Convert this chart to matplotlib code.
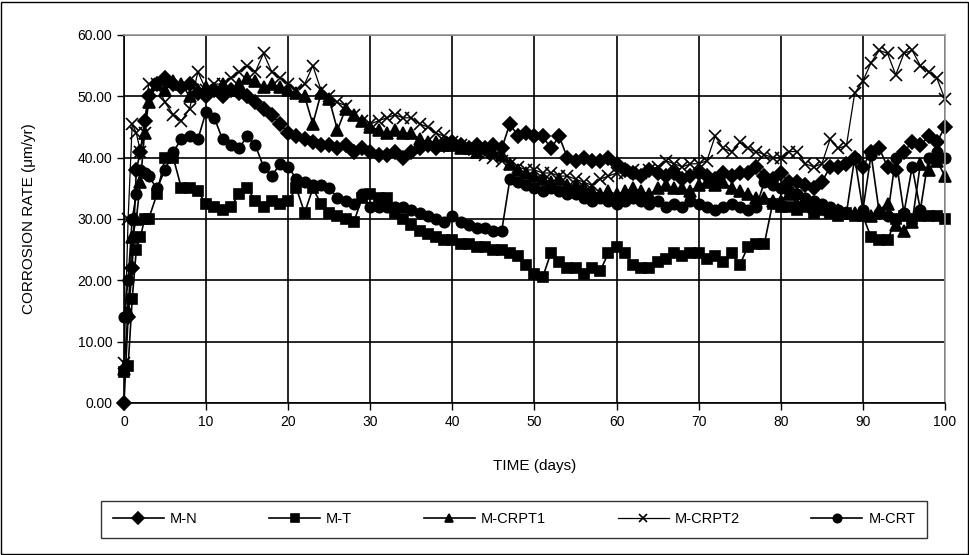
#!/usr/bin/env python3
# corrosion rate vs time, five mixes
import matplotlib
matplotlib.use("Agg")
import matplotlib.pyplot as plt
from matplotlib.patches import Rectangle

plt.rcParams['font.family'] = ['Liberation Sans', 'DejaVu Sans']

# first readings every half day, then daily from day 3
days = [0, 0.5, 1, 1.5, 2, 2.5] + list(range(3, 101))

m_n = ([0, 14, 22, 38, 41, 46] +
       [50, 52, 53, 52, 51.5, 52, 50.5, 50, 51, 50] +
       [51, 50.5, 50, 49, 48, 47, 45.5, 44, 43.5, 43] +
       [42.5, 42, 42, 41.5, 42, 41, 41.5, 41, 40.5, 40.5] +
       [41, 40, 41, 41.5, 42, 41.5, 42, 42.5, 42, 41.5] +
       [42, 41.5, 42, 41.5, 45.5, 43.5, 44, 43.5, 43.5, 41.5] +
       [43.5, 40, 39.5, 40, 39.5, 39.5, 40, 39, 38, 37.5] +
       [37, 38, 37.5, 37, 37.5, 36.5, 37, 37.5, 37, 36.5] +
       [37.5, 37, 37.5, 37.5, 38.5, 37, 36.5, 37.5, 36, 36] +
       [35.5, 35, 36, 38.5, 38.5, 39, 40, 38.5, 41, 41.5] +
       [38.5, 38, 41, 42.5, 42, 43.5, 42.5, 45])

m_t = ([5, 6, 17, 25, 27, 30] +
       [30, 34, 40, 40, 35, 35, 34.5, 32.5, 32, 31.5] +
       [32, 34, 35, 33, 32, 33, 32.5, 33, 35, 31] +
       [35, 32.5, 31, 30.5, 30, 29.5, 33.5, 34, 33.5, 33.5] +
       [31, 30, 29, 28, 27.5, 27, 26.5, 26.5, 26, 26] +
       [25.5, 25.5, 25, 25, 24.5, 24, 22.5, 21, 20.5, 24.5] +
       [23, 22, 22, 21, 22, 21.5, 24.5, 25.5, 24.5, 22.5] +
       [22, 22, 23, 23.5, 24.5, 24, 24.5, 24.5, 23.5, 24] +
       [23, 24.5, 22.5, 25.5, 26, 26, 32.5, 32, 32, 31.5] +
       [32, 31, 31.5, 31, 30.5, 31, 30.5, 30.5, 27, 26.5] +
       [26.5, 30, 30.5, 30, 30.5, 30.5, 30.5, 30])

m_crpt1 = ([5.5, 15, 27, 30, 36, 44] +
           [49, 52, 51, 52.5, 52, 50, 51, 51.5, 51, 52] +
           [51, 52, 53, 52.5, 51.5, 52, 51.5, 51, 50.5, 50] +
           [45.5, 50.5, 49.5, 44.5, 48, 47, 46, 45, 44.5, 44] +
           [44.5, 44, 44, 43, 42.5, 42.5, 42, 42, 41.5, 41.5] +
           [41, 41.5, 41, 40.5, 39, 38, 37.5, 37, 36.5, 36] +
           [36.5, 35.5, 35.5, 35, 34.5, 34, 34.5, 34, 34.5, 35] +
           [34.5, 34, 35, 35.5, 35, 35, 34.5, 35.5, 36, 35.5] +
           [36, 35, 34.5, 34, 33.5, 33.5, 33, 33, 34, 32.5] +
           [33, 32, 32, 31.5, 31.5, 31, 31, 31, 30.5, 31.5] +
           [32.5, 29, 28, 29.5, 39, 38, 39.5, 37])

m_crpt2 = ([6.5, 30, 45.5, 44, 41, 44] +
           [52, 52, 49, 47, 46, 48, 54, 51, 52, 52] +
           [53, 54, 55, 54, 57, 54, 53, 52, 51, 52] +
           [55, 51, 50, 49, 48.5, 47, 46, 45.5, 46, 46.5] +
           [47, 46.5, 46.5, 45.5, 45, 44, 43.5, 42.5, 42, 41.5] +
           [41, 40.5, 40, 39.5, 39, 38.5, 38, 38, 37.5, 37.5] +
           [37, 37, 36.5, 36, 35.5, 36.5, 37, 37.5, 37.5, 38] +
           [37.5, 38, 38.5, 39.5, 39, 38.5, 39, 39, 39.5, 43.5] +
           [41.5, 41, 42.5, 41.5, 41, 40.5, 40, 40, 41, 41] +
           [39, 38.5, 39, 43, 41.5, 42, 50.5, 52.5, 55.5, 57.5] +
           [57, 53.5, 57, 57.5, 55, 54, 53, 49.5])

m_crt = ([14, 20, 30, 34, 38, 37.5] +
         [37, 35, 38, 41, 43, 43.5, 43, 47.5, 46.5, 43] +
         [42, 41.5, 43.5, 42, 38.5, 37, 39, 38.5, 36.5, 36] +
         [35.5, 35.5, 35, 33.5, 33, 32.5, 34, 32, 32, 32] +
         [32, 32, 31.5, 31, 30.5, 30, 29.5, 30.5, 29.5, 29] +
         [28.5, 28.5, 28, 28, 36.5, 36, 35.5, 35, 34.5, 35] +
         [34.5, 34, 34, 33.5, 33, 33.5, 33, 32.5, 33, 33.5] +
         [33, 32.5, 33, 32, 32.5, 32, 33, 32.5, 32, 31.5] +
         [32, 32.5, 32, 31.5, 32, 36, 35.5, 35, 34.5, 34] +
         [33.5, 33, 32.5, 32, 31.5, 31, 40, 31.5, 40.5, 31] +
         [30.5, 40, 31, 38.5, 31.5, 40, 41, 40])

series = [
    ('M-N', m_n, 'D', 7, 1.2),
    ('M-T', m_t, 's', 7.5, 1.2),
    ('M-CRPT1', m_crpt1, '^', 8, 1.2),
    ('M-CRPT2', m_crpt2, 'x', 8, 0.9),
    ('M-CRT', m_crt, 'o', 7.5, 1.2),
]

fig = plt.figure(figsize=(9.7, 5.55), dpi=100)
ax = fig.add_axes([124 / 970, 1 - 403 / 555, 821 / 970, 368 / 555])

for name, vals, mk, ms, lw in series:
    ax.plot(days, vals, color='black', lw=lw, marker=mk, ms=ms,
            mew=1.2, mfc='black', mec='black', label=name, clip_on=False)

ax.set_xlim(0, 100)
ax.set_ylim(0, 60)
ax.set_xticks(range(0, 101, 10))
ax.set_yticks(range(0, 61, 10))
ax.set_yticklabels(['%.2f' % v for v in range(0, 61, 10)])
ax.grid(True, color='black', lw=1.2)
ax.set_axisbelow(True)
ax.tick_params(direction='out', length=5, width=1, labelsize=10, colors='black')
for s in ['left', 'bottom']:
    ax.spines[s].set_linewidth(1.2)
for s in ['top', 'right']:
    ax.spines[s].set_color('#999999')
    ax.spines[s].set_linewidth(1.2)

ax.set_xlabel('TIME (days)', fontsize=11, labelpad=22)
ax.set_ylabel('CORROSION RATE (\u03bcm/yr)', fontsize=11, labelpad=30)

leg = fig.legend(loc='lower left', bbox_to_anchor=(101 / 970, 1 - 538 / 555, 826 / 970, 38 / 555),
                 mode='expand', ncol=5, frameon=True, fancybox=False, edgecolor='black',
                 fontsize=10.5, handlelength=3.5, handletextpad=0.4,
                 borderaxespad=0, borderpad=0.8)
leg.get_frame().set_linewidth(1.0)
for h in leg.legend_handles:
    h.set_markersize(6)

fig.patches.append(Rectangle((0.001, 0.002), 0.997, 0.995, transform=fig.transFigure,
                             fill=False, edgecolor='black', lw=1))

fig.savefig('out.png', dpi=100)
